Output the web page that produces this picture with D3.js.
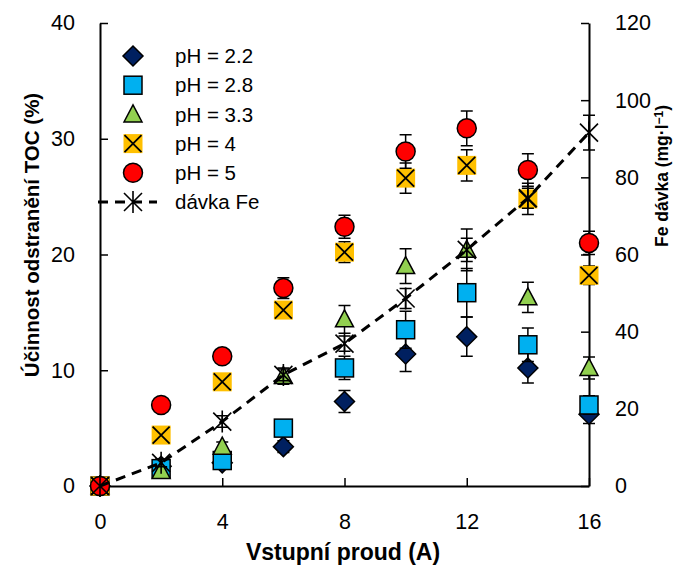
<!DOCTYPE html>
<html>
<head>
<meta charset="utf-8">
<script src="https://cdn.jsdelivr.net/npm/d3@7"></script>
<style>
  html, body { margin: 0; padding: 0; background: #fff; }
  svg { display: block; font-family: "Liberation Sans", Arial, sans-serif; }
</style>
</head>
<body>
<svg id="chart" width="674" height="565"></svg>
<script>
// Input current (A)
const current = [0, 2, 4, 6, 8, 10, 12, 14, 16];

// TOC removal efficiency (%) for each pH, with error bar half-widths
const ph22 = [0, 1.7, 2.0, 3.4, 7.3, 11.4, 12.9, 10.2, 6.2];
const ph22Err = [0, 0.3, 0.4, 0.5, 0.95, 1.5, 1.7, 1.3, 0.8];
const ph28 = [0, 1.5, 2.2, 5.0, 10.2, 13.5, 16.7, 12.2, 7.0];
const ph28Err = [0, 0.3, 0.4, 0.5, 1.0, 1.6, 2.1, 1.45, 0.8];
const ph33 = [0, 1.3, 3.4, 9.5, 14.4, 19.0, 20.4, 16.3, 10.2];
const ph33Err = [0, 0.3, 0.4, 0.7, 1.2, 1.5, 1.8, 1.3, 0.95];
const ph4 = [0, 4.4, 9.0, 15.2, 20.2, 26.6, 27.7, 24.8, 18.2];
const ph4Err = [0, 0.3, 0.4, 0.6, 0.9, 1.3, 1.35, 1.35, 0.8];
const ph5 = [0, 7.0, 11.2, 17.1, 22.4, 28.9, 30.9, 27.3, 21.0];
const ph5Err = [0, 0.3, 0.4, 0.9, 1.0, 1.45, 1.5, 1.4, 1.0];

// Iron dose (mg/l), right axis
const feDose = [0, 6.0, 16.7, 28.8, 36.9, 48.6, 61.2, 74.6, 91.6];
const feErr = [0, 1.0, 1.5, 1.5, 2.0, 2.6, 3.0, 2.6, 4.5];

// Tick labels
const xTicks = [0, 4, 8, 12, 16];
const yLeftTicks = [0, 10, 20, 30, 40];
const yRightTicks = [0, 20, 40, 60, 80, 100, 120];

const seriesLabels = ["pH = 2.2", "pH = 2.8", "pH = 3.3", "pH = 4", "pH = 5", "dávka Fe"];

const svg = d3.select("#chart");

const x = d3.scaleLinear().domain([0, 16]).range([100, 589]);
const yL = d3.scaleLinear().domain([0, 40]).range([486, 23]);
const yR = d3.scaleLinear().domain([0, 120]).range([486, 23]);

// ---- axes ----
const tickFont = 21.5;
function styleAxis(g) {
  g.select(".domain").attr("stroke", "#000").attr("stroke-width", 2);
  g.selectAll(".tick line").attr("stroke", "#000").attr("stroke-width", 1.5);
  g.selectAll(".tick text").attr("fill", "#000").attr("font-size", tickFont)
    .attr("font-family", "Liberation Sans, Arial, sans-serif");
}

svg.append("g").attr("transform", "translate(0,486)")
  .call(d3.axisBottom(x).tickValues(xTicks).tickSize(-8).tickSizeOuter(0).tickPadding(28).tickFormat(d3.format("d")))
  .call(styleAxis);

svg.append("g").attr("transform", "translate(100,0)")
  .call(d3.axisLeft(yL).tickValues(yLeftTicks).tickSize(-8).tickSizeOuter(0).tickPadding(25).tickFormat(d3.format("d")))
  .call(styleAxis);

svg.append("g").attr("transform", "translate(589,0)")
  .call(d3.axisRight(yR).tickValues(yRightTicks).tickSize(-8).tickSizeOuter(0).tickPadding(26).tickFormat(d3.format("d")))
  .call(styleAxis);

// ---- axis titles ----
svg.append("text")
  .attr("x", 343).attr("y", 552).attr("dy", "0.35em")
  .attr("text-anchor", "middle").attr("font-size", 23).attr("font-weight", "bold")
  .text("Vstupní proud (A)");

svg.append("text")
  .attr("transform", "translate(32,235) rotate(-90)")
  .attr("dy", "0.35em")
  .attr("text-anchor", "middle").attr("font-size", 20.5).attr("font-weight", "bold")
  .text("Účinnost odstranění TOC (%)");

const rt = svg.append("text")
  .attr("transform", "translate(662,176) rotate(-90)")
  .attr("dy", "0.35em")
  .attr("text-anchor", "middle").attr("font-size", 17.5).attr("font-weight", "bold");
rt.append("tspan").text("Fe dávka (mg·l");
rt.append("tspan").attr("font-size", 12).attr("dy", "-0.45em").text("−1");
rt.append("tspan").attr("dy", "0.3em").text(")");

// ---- marker shapes ----
function drawMarker(g, type, cx, cy) {
  if (type === "diamond") {
    const r = 10;
    g.append("path").attr("d", `M${cx},${cy - r}L${cx + r},${cy}L${cx},${cy + r}L${cx - r},${cy}Z`)
      .attr("fill", "#002060").attr("stroke", "#000").attr("stroke-width", 1.5);
  } else if (type === "square") {
    const s = 18;
    g.append("rect").attr("x", cx - s / 2).attr("y", cy - s / 2).attr("width", s).attr("height", s)
      .attr("fill", "#00B0F0").attr("stroke", "#000").attr("stroke-width", 1.5);
  } else if (type === "triangle") {
    const w = 18, h = 17;
    g.append("path").attr("d", `M${cx},${cy - h / 2 - 1}L${cx + w / 2},${cy + h / 2 - 1}L${cx - w / 2},${cy + h / 2 - 1}Z`)
      .attr("fill", "#92D050").attr("stroke", "#000").attr("stroke-width", 1.5);
  } else if (type === "xsquare") {
    const s = 19, a = 8.5;
    g.append("rect").attr("x", cx - s / 2).attr("y", cy - s / 2).attr("width", s).attr("height", s)
      .attr("fill", "#FFC000");
    g.append("path").attr("d", `M${cx - a},${cy - a}L${cx + a},${cy + a}M${cx + a},${cy - a}L${cx - a},${cy + a}`)
      .attr("stroke", "#000").attr("stroke-width", 1.8).attr("fill", "none");
  } else if (type === "circle") {
    g.append("circle").attr("cx", cx).attr("cy", cy).attr("r", 9.5)
      .attr("fill", "#FF0000").attr("stroke", "#000").attr("stroke-width", 1.5);
  } else if (type === "star") {
    const a = 9, v = 11;
    g.append("path").attr("d", `M${cx - a},${cy - a}L${cx + a},${cy + a}M${cx + a},${cy - a}L${cx - a},${cy + a}M${cx},${cy - v}L${cx},${cy + v}`)
      .attr("stroke", "#000").attr("stroke-width", 1.6).attr("fill", "none");
  }
}

function drawErrorBars(g, values, errs, yScale) {
  const cap = 6;
  current.forEach((c, i) => {
    if (!errs[i]) return;
    const px = x(c), y1 = yScale(values[i] - errs[i]), y2 = yScale(values[i] + errs[i]);
    g.append("path")
      .attr("d", `M${px},${y1}L${px},${y2}M${px - cap},${y1}L${px + cap},${y1}M${px - cap},${y2}L${px + cap},${y2}`)
      .attr("stroke", "#000").attr("stroke-width", 1.5).attr("fill", "none");
  });
}

const phSeries = [
  { values: ph22, errs: ph22Err, type: "diamond" },
  { values: ph28, errs: ph28Err, type: "square" },
  { values: ph33, errs: ph33Err, type: "triangle" },
  { values: ph4, errs: ph4Err, type: "xsquare" },
  { values: ph5, errs: ph5Err, type: "circle" }
];

const plot = svg.append("g");
phSeries.forEach(s => {
  const g = plot.append("g");
  drawErrorBars(g, s.values, s.errs, yL);
  current.forEach((c, i) => drawMarker(g, s.type, x(c), yL(s.values[i])));
});

// iron dose: dashed line with asterisk markers
const fe = plot.append("g");
fe.append("path")
  .datum(current.map((c, i) => [c, feDose[i]]))
  .attr("d", d3.line().x(d => x(d[0])).y(d => yR(d[1])))
  .attr("fill", "none").attr("stroke", "#000").attr("stroke-width", 3)
  .attr("stroke-dasharray", "10,7");
drawErrorBars(fe, feDose, feErr, yR);
current.forEach((c, i) => drawMarker(fe, "star", x(c), yR(feDose[i])));

// ---- legend ----
const legend = svg.append("g");
const legendTypes = ["diamond", "square", "triangle", "xsquare", "circle", "star"];
seriesLabels.forEach((label, i) => {
  const cy = 56 + i * 29.2;
  if (legendTypes[i] === "star") {
    legend.append("path").attr("d", `M98,${cy}L157,${cy}`)
      .attr("stroke", "#000").attr("stroke-width", 3).attr("stroke-dasharray", "10,7");
  }
  drawMarker(legend, legendTypes[i], 133, cy);
  legend.append("text").attr("x", 175).attr("y", cy).attr("dy", "0.35em")
    .attr("font-size", 20.5).text(label);
});
</script>
</body>
</html>
